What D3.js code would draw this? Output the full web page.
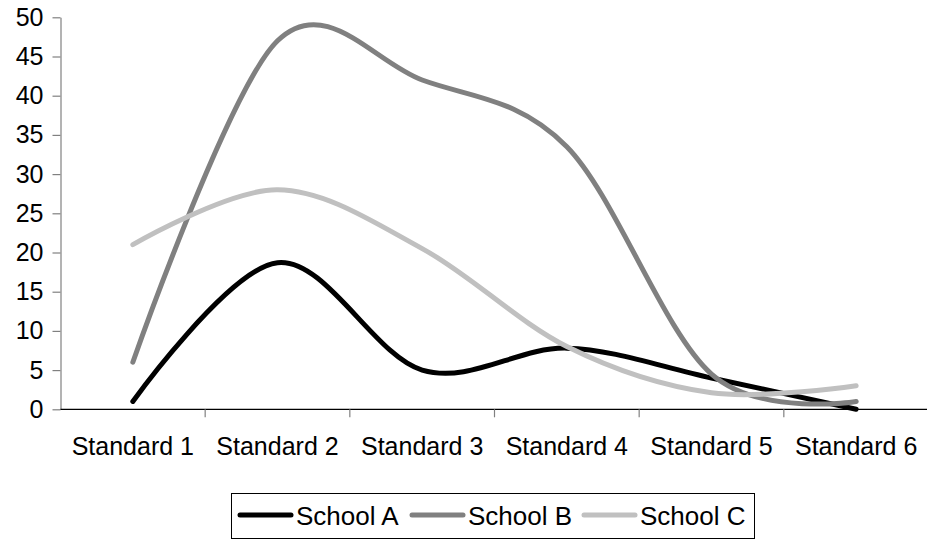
<!DOCTYPE html>
<html>
<head>
<meta charset="utf-8">
<script src="https://cdn.jsdelivr.net/npm/d3@7"></script>
<style>
  html, body { margin: 0; padding: 0; background: #fff; }
  svg { display: block; }
  text { font-family: "Liberation Sans", Arial, sans-serif; fill: #000; }
</style>
</head>
<body>
<svg id="chart" width="927" height="540"></svg>
<script>
// Pupils per standard in each school
const categories = ["Standard 1", "Standard 2", "Standard 3", "Standard 4", "Standard 5", "Standard 6"];
const seriesNames = ["School A", "School B", "School C"];
const schoolA = [1, 18.7, 5, 7.8, 4, 0];
const schoolB = [6, 47, 42, 33.5, 4.5, 1];
const schoolC = [21, 28, 20.5, 8, 2.1, 3];
const yTicks = [0, 5, 10, 15, 20, 25, 30, 35, 40, 45, 50];
const seriesColors = ["#000000", "#808080", "#c0c0c0"];

const series = seriesNames.map((name, i) => ({
  name,
  values: [schoolA, schoolB, schoolC][i],
  color: seriesColors[i]
}));

const svg = d3.select("#chart");
const plot = { left: 60.5, right: 928.5, top: 17.3, bottom: 409.3 };

const x = d3.scaleBand().domain(categories).range([plot.left, plot.right]);
const y = d3.scaleLinear().domain([0, 50]).range([plot.bottom, plot.top]);

// Y axis
const yAxis = svg.append("g")
  .attr("transform", `translate(${plot.left},0)`)
  .call(d3.axisLeft(y).tickValues(yTicks).tickSize(8).tickPadding(9).tickSizeOuter(0));
yAxis.select(".domain").attr("stroke", "#808080").attr("stroke-width", 1.2);
yAxis.selectAll(".tick line").attr("stroke", "#808080").attr("stroke-width", 1.2);
yAxis.selectAll(".tick text")
  .style("font-family", "'Liberation Sans', Arial, sans-serif")
  .style("font-size", "25px")
  .attr("fill", "#000");

// X axis with ticks on category boundaries
const xAxis = svg.append("g")
  .attr("transform", `translate(0,${plot.bottom})`);
xAxis.append("line")
  .attr("x1", plot.left).attr("x2", plot.right)
  .attr("y1", 0).attr("y2", 0)
  .attr("stroke", "#000").attr("stroke-width", 1.2);
xAxis.selectAll("line.tick")
  .data(categories.slice(1))
  .join("line")
  .attr("class", "tick")
  .attr("x1", d => x(d)).attr("x2", d => x(d))
  .attr("y1", 0).attr("y2", 8)
  .attr("stroke", "#808080").attr("stroke-width", 1.2);
xAxis.selectAll("text")
  .data(categories)
  .join("text")
  .attr("x", d => x(d) + x.bandwidth() / 2)
  .attr("y", 46)
  .attr("text-anchor", "middle")
  .style("font-size", "25px")
  .text(d => d);

// Smoothed lines
const line = d3.line()
  .x((d, i) => x(categories[i]) + x.bandwidth() / 2)
  .y(d => y(d))
  .curve(d3.curveCardinal.tension(0));

svg.append("g").selectAll("path")
  .data(series)
  .join("path")
  .attr("d", d => line(d.values))
  .attr("fill", "none")
  .attr("stroke", d => d.color)
  .attr("stroke-width", 5)
  .attr("stroke-linecap", "round")
  .attr("stroke-linejoin", "round");

// Legend
const legend = svg.append("g");
legend.append("rect")
  .attr("x", 231.5).attr("y", 493.5)
  .attr("width", 523).attr("height", 45)
  .attr("fill", "#fff").attr("stroke", "#000").attr("stroke-width", 1);
const legendX = [240, 412, 584];
const item = legend.selectAll("g.item")
  .data(series)
  .join("g")
  .attr("class", "item")
  .attr("transform", (d, i) => `translate(${legendX[i]},515)`);
item.append("line")
  .attr("x1", 0).attr("x2", 51)
  .attr("y1", 0).attr("y2", 0)
  .attr("stroke", d => d.color)
  .attr("stroke-width", 5)
  .attr("stroke-linecap", "round");
item.append("text")
  .attr("x", 56)
  .attr("y", 9.5)
  .style("font-size", "26px")
  .text(d => d.name);
</script>
</body>
</html>
